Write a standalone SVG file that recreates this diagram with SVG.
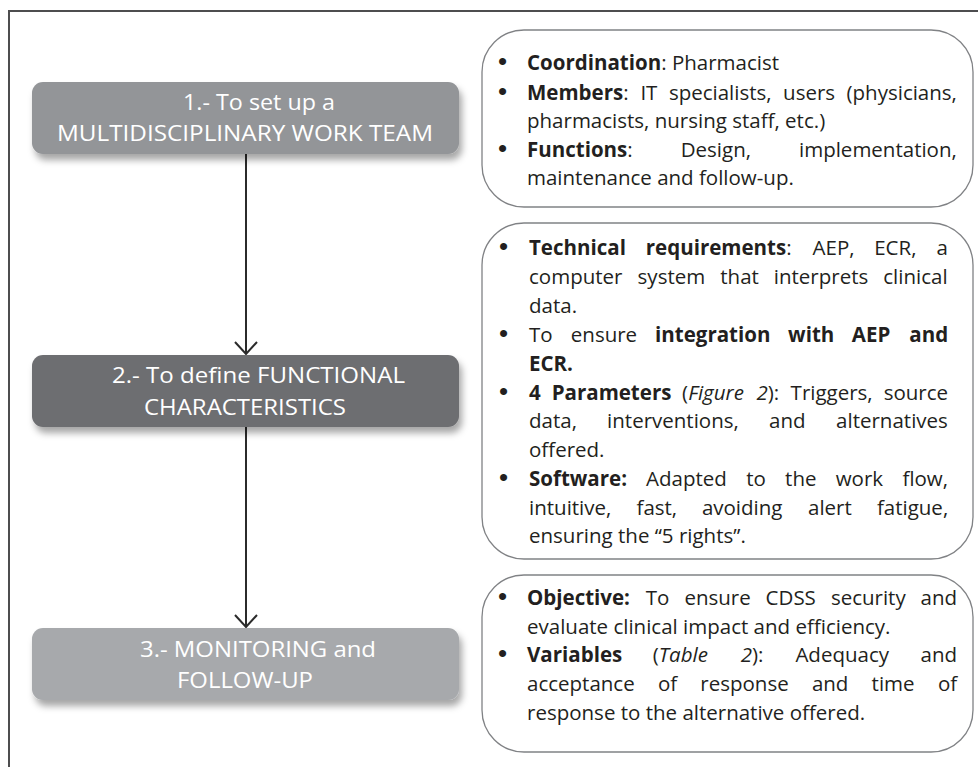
<svg xmlns="http://www.w3.org/2000/svg" width="978" height="767" viewBox="0 0 978 767">
<defs>
<style>
.frame{fill:none;stroke:#4d4d4f;stroke-width:2}
.step text{font-family:"Open Sans","Noto Sans",sans-serif;font-size:21px;fill:#ffffff}
.info rect{fill:#ffffff;stroke:#808285;stroke-width:1.3}
.info text{font-family:"Open Sans","Noto Sans",sans-serif;font-size:20.5px;fill:#231f20}
.info text.bu{font-family:"Liberation Sans",Arial,sans-serif;font-size:26px}
.b{font-weight:bold}
.i{font-style:italic}
.conn line{stroke:#2b2b2b;stroke-width:2}
</style>
<filter id="sh" x="-10%" y="-20%" width="125%" height="160%">
<feDropShadow dx="3" dy="6" stdDeviation="3.5" flood-color="#000000" flood-opacity="0.35"/>
</filter>
<marker id="arr" viewBox="0 0 14 24" refX="13" refY="12" markerWidth="14" markerHeight="24" markerUnits="userSpaceOnUse" orient="auto">
<path d="M1,1 L13,12 L1,23" fill="none" stroke="#2b2b2b" stroke-width="2"/>
</marker>
</defs>
<rect width="978" height="767" fill="#ffffff"/>
<path class="frame" d="M9,767 V11 H978"/>

<g id="connectors" class="conn">
<line x1="246" y1="154" x2="246" y2="354" marker-end="url(#arr)"/>
<line x1="246" y1="427" x2="246" y2="627" marker-end="url(#arr)"/>
</g>

<g id="step1" class="step">
<rect x="32" y="82" width="427" height="72" rx="11" fill="#939598" filter="url(#sh)"/>
<text x="183" y="110" textLength="152" lengthAdjust="spacingAndGlyphs">1.- To set up a</text>
<text x="57" y="141" textLength="376" lengthAdjust="spacingAndGlyphs">MULTIDISCIPLINARY WORK TEAM</text>
</g>
<g id="step2" class="step">
<rect x="32" y="355" width="427" height="72" rx="11" fill="#6d6e71" filter="url(#sh)"/>
<text x="112" y="383" textLength="293" lengthAdjust="spacingAndGlyphs">2.- To define FUNCTIONAL</text>
<text x="144" y="415" textLength="202" lengthAdjust="spacingAndGlyphs">CHARACTERISTICS</text>
</g>
<g id="step3" class="step">
<rect x="32" y="628" width="427" height="72" rx="11" fill="#a7a9ac" filter="url(#sh)"/>
<text x="140" y="657" textLength="236" lengthAdjust="spacingAndGlyphs">3.- MONITORING and</text>
<text x="177" y="688" textLength="136" lengthAdjust="spacingAndGlyphs">FOLLOW-UP</text>
</g>

<g id="info1" class="info">
<rect x="482" y="30" width="491" height="177" rx="42"/>
<text class="bu" x="498" y="70">•</text>
<text class="bu" x="498" y="100">•</text>
<text class="bu" x="498" y="157">•</text>
<text x="527" y="70"><tspan class="b">Coordination</tspan>: Pharmacist</text>
<text y="100"><tspan x="527"><tspan class="b">Members</tspan>:</tspan><tspan x="640.4">IT</tspan><tspan x="668.9">specialists,</tspan><tspan x="783.1">users</tspan><tspan x="846.5">(physicians,</tspan></text>
<text x="527" y="128">pharmacists, nursing staff, etc.)</text>
<text y="157"><tspan x="527"><tspan class="b">Functions</tspan>:</tspan><tspan x="680.7">Design,</tspan><tspan x="799">implementation,</tspan></text>
<text x="527" y="185">maintenance and follow-up.</text>
</g>

<g id="info2" class="info">
<rect x="482" y="223" width="491" height="336" rx="42"/>
<text class="bu" x="499" y="255">•</text>
<text class="bu" x="499" y="342">•</text>
<text class="bu" x="499" y="400">•</text>
<text class="bu" x="499" y="486">•</text>
<text y="255"><tspan x="529" class="b">Technical</tspan><tspan x="645.8"><tspan class="b">requirements</tspan>:</tspan><tspan x="812.6">AEP,</tspan><tspan x="874.2">ECR,</tspan><tspan x="936.5">a</tspan></text>
<text y="284"><tspan x="529">computer</tspan><tspan x="637.6">system</tspan><tspan x="720.3">that</tspan><tspan x="773.8">interprets</tspan><tspan x="883.3">clinical</tspan></text>
<text x="529" y="313">data.</text>
<text y="342"><tspan x="529">To</tspan><tspan x="570.8">ensure</tspan><tspan x="655.1" class="b">integration</tspan><tspan x="788.1" class="b">with</tspan><tspan x="851.8" class="b">AEP</tspan><tspan x="909.3" class="b">and</tspan></text>
<text x="529" y="371" class="b">ECR.</text>
<text y="400"><tspan x="529" class="b">4</tspan><tspan x="551.7" class="b">Parameters</tspan><tspan x="682.1">(<tspan class="i">Figure</tspan></tspan><tspan x="756.4"><tspan class="i">2</tspan>):</tspan><tspan x="790.6">Triggers,</tspan><tspan x="883.7">source</tspan></text>
<text y="428"><tspan x="529">data,</tspan><tspan x="607.1">interventions,</tspan><tspan x="769.1">and</tspan><tspan x="836.1">alternatives</tspan></text>
<text x="529" y="457">offered.</text>
<text y="486"><tspan x="529" class="b">Software:</tspan><tspan x="646.1">Adapted</tspan><tspan x="746.2">to</tspan><tspan x="785.1">the</tspan><tspan x="835.7">work</tspan><tspan x="902.4">flow,</tspan></text>
<text y="515"><tspan x="529">intuitive,</tspan><tspan x="636.5">fast,</tspan><tspan x="701.9">avoiding</tspan><tspan x="808">alert</tspan><tspan x="876.9">fatigue,</tspan></text>
<text x="529" y="543">ensuring the “5 rights”.</text>
</g>

<g id="info3" class="info">
<rect x="482" y="575" width="491" height="177" rx="42"/>
<text class="bu" x="498" y="605">•</text>
<text class="bu" x="498" y="662">•</text>
<text y="605"><tspan x="527" class="b">Objective:</tspan><tspan x="645.8">To</tspan><tspan x="684.4">ensure</tspan><tspan x="765.6">CDSS</tspan><tspan x="830.9">security</tspan><tspan x="920.6">and</tspan></text>
<text x="527" y="634">evaluate clinical impact and efficiency.</text>
<text y="662"><tspan x="527" class="b">Variables</tspan><tspan x="652.8">(<tspan class="i">Table</tspan></tspan><tspan x="740.7"><tspan class="i">2</tspan>):</tspan><tspan x="795.4">Adequacy</tspan><tspan x="920.5">and</tspan></text>
<text y="691"><tspan x="527">acceptance</tspan><tspan x="657.9">of</tspan><tspan x="700.3">response</tspan><tspan x="811.9">and</tspan><tspan x="871.6">time</tspan><tspan x="937.9">of</tspan></text>
<text x="527" y="720">response to the alternative offered.</text>
</g>
</svg>
